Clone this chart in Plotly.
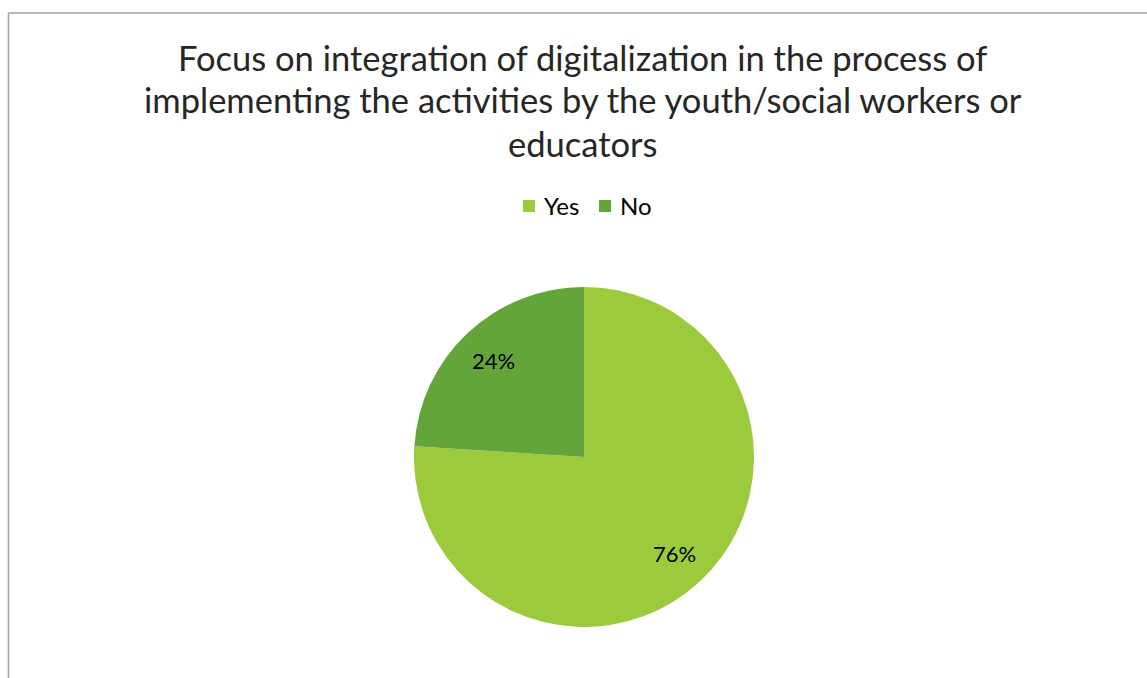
import math
import plotly.graph_objects as go

W, H = 1147, 678

title_lines = [
    "Focus on integration of digitalization in the process of",
    "implementing the activities by the youth/social workers or",
    "educators",
]
labels = ["Yes", "No"]
values = [76, 24]
colors = ["#9BCB3C", "#63A53A"]

FONT = "Lato, 'Open Sans', sans-serif"

# pie geometry (pixels)
CX, CY, R = 584, 457, 170
LABEL_R = 0.78  # fraction of radius where the percentage labels sit


def px(x):
    return x / W


def py(y):
    return 1 - y / H


fig = go.Figure(
    go.Pie(
        labels=labels,
        values=values,
        sort=False,
        direction="clockwise",
        rotation=0,
        marker=dict(colors=colors, line=dict(width=0)),
        textinfo="none",
        domain=dict(x=[px(CX - R), px(CX + R)], y=[py(CY + R), py(CY - R)]),
        hoverinfo="label+percent",
        showlegend=False,
    )
)

annotations = []

# title, one centred line each
for i, line in enumerate(title_lines):
    annotations.append(dict(
        text=line, xref="paper", yref="paper",
        x=px(583), y=py(57 + 43 * i), xanchor="center", yanchor="middle",
        showarrow=False, font=dict(family=FONT, size=34.5, color="#262626"),
    ))

# percentage labels placed at mid-angle of each slice (clockwise from 12 o'clock)
total = sum(values)
start = 0.0
for v in values:
    frac = v / total
    mid = (start + frac / 2) * 2 * math.pi
    lx = CX + LABEL_R * R * math.sin(mid)
    ly = CY - LABEL_R * R * math.cos(mid)
    annotations.append(dict(
        text=f"{round(frac * 100)}%", xref="paper", yref="paper",
        x=px(lx), y=py(ly), xanchor="center", yanchor="middle",
        showarrow=False, font=dict(family=FONT, size=22, color="#000000"),
    ))
    start += frac

# legend: coloured square followed by the label
shapes = []
legend_x = [523, 599]
for lbl, col, x0 in zip(labels, colors, legend_x):
    shapes.append(dict(
        type="rect", xref="paper", yref="paper",
        x0=px(x0), x1=px(x0 + 12), y0=py(212), y1=py(200),
        fillcolor=col, line=dict(width=0),
    ))
    annotations.append(dict(
        text=lbl, xref="paper", yref="paper",
        x=px(x0 + 19), y=py(206), xanchor="left", yanchor="middle",
        showarrow=False, font=dict(family=FONT, size=24, color="#000000"),
    ))

# chart area frame (left and top edges)
shapes += [
    dict(type="line", xref="paper", yref="paper",
         x0=px(8.5), x1=px(8.5), y0=0, y1=py(13),
         line=dict(color="#A0A0A0", width=1.5)),
    dict(type="line", xref="paper", yref="paper",
         x0=px(8.5), x1=1, y0=py(13), y1=py(13),
         line=dict(color="#A0A0A0", width=1.5)),
]

fig.update_layout(
    width=W,
    height=H,
    margin=dict(l=0, r=0, t=0, b=0),
    paper_bgcolor="white",
    plot_bgcolor="white",
    annotations=annotations,
    shapes=shapes,
)

fig.write_html("out.html")
